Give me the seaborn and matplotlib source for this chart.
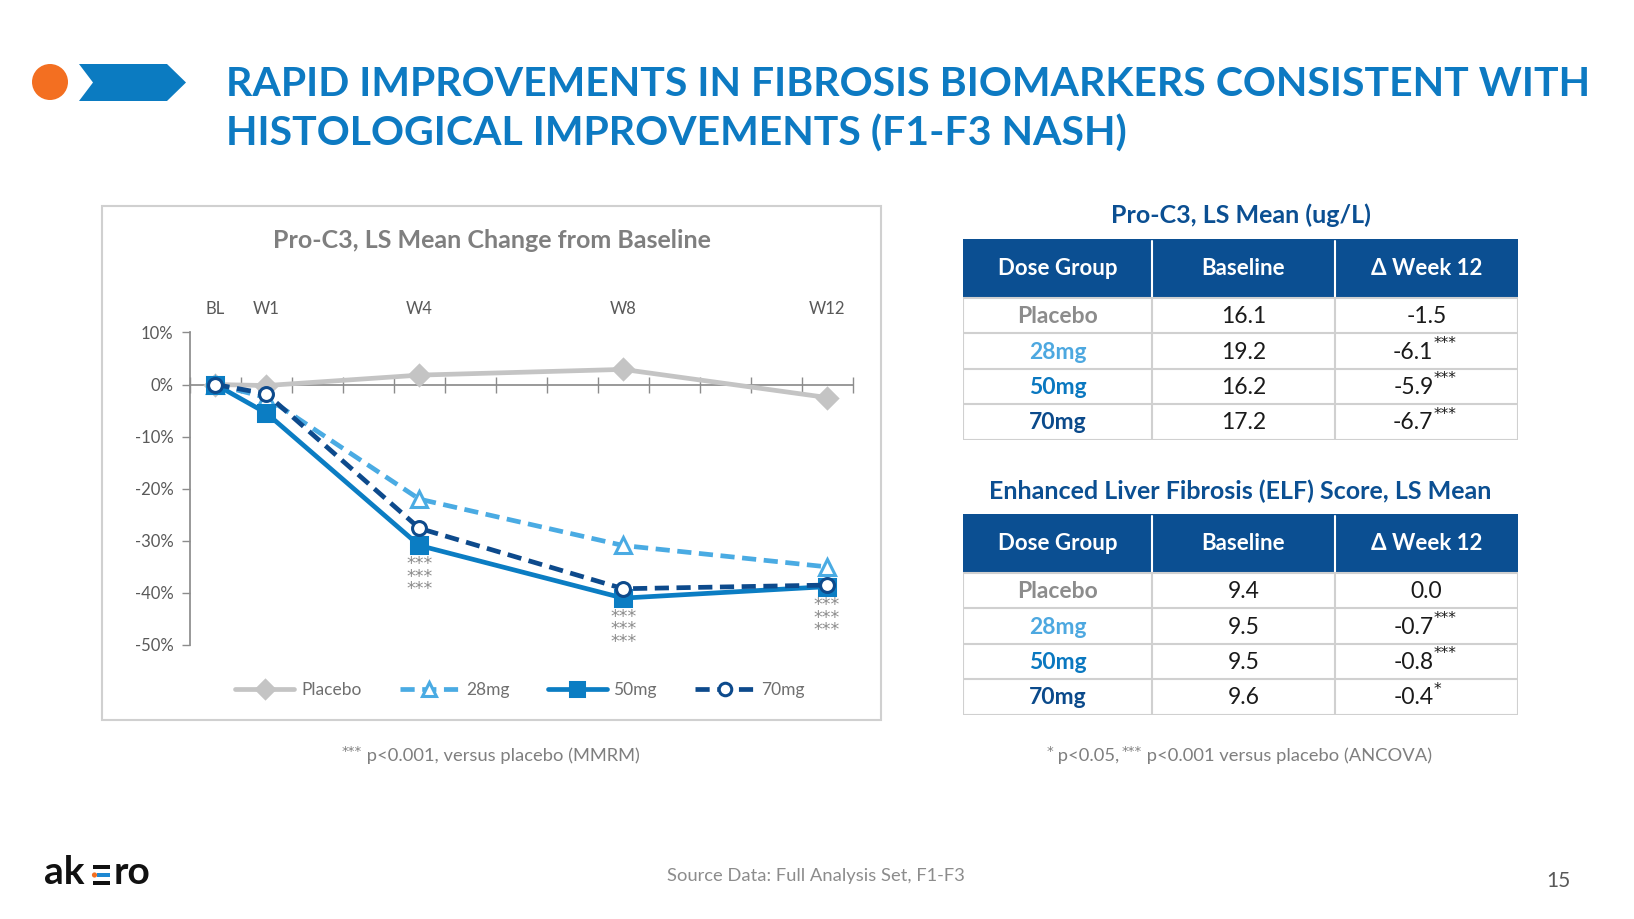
import matplotlib
matplotlib.use("Agg")
import matplotlib.pyplot as plt
import matplotlib.patches as mpatches
from matplotlib.lines import Line2D
import seaborn as sns
import pandas as pd

sns.set_theme(style="white")
plt.rcParams["font.family"] = ["Lato", "DejaVu Sans"]

# ---- data ----
weeks = [0, 1, 4, 8, 12]
week_labels = ["BL", "W1", "W4", "W8", "W12"]
placebo = [0.0, -0.2, 1.8, 2.9, -2.5]
mg28 = [0.0, -2.5, -22.0, -30.9, -35.0]
mg50 = [0.0, -5.5, -30.9, -41.0, -38.8]
mg70 = [0.0, -1.8, -27.6, -39.2, -38.5]
star_weeks = [4, 8, 12]
y_ticks = [10, 0, -10, -20, -30, -40, -50]

dose_groups = ["Placebo", "28mg", "50mg", "70mg"]
proc3_baseline = ["16.1", "19.2", "16.2", "17.2"]
proc3_week12 = ["-1.5", "-6.1", "-5.9", "-6.7"]
proc3_sig = ["", "***", "***", "***"]
elf_baseline = ["9.4", "9.5", "9.5", "9.6"]
elf_week12 = ["0.0", "-0.7", "-0.8", "-0.4"]
elf_sig = ["", "***", "***", "*"]
table_cols = ["Dose Group", "Baseline", "\u0394 Week 12"]

# ---- styles ----
W, H = 1634, 919
BLUE_T = "#0D7AC2"
NAVY = "#0B4F92"
GREY_TXT = "#7F7F7F"
series_style = {
    "Placebo": dict(color="#C4C4C4", ls="-", marker="D", mfc="#C4C4C4", ms=10),
    "28mg": dict(color="#4AABE3", ls=(0, (3, 1.6)), marker="^", mfc="white", ms=11),
    "50mg": dict(color="#0B7DC3", ls="-", marker="s", mfc="#0B7DC3", ms=11),
    "70mg": dict(color="#0D4A8C", ls=(0, (3, 1.6)), marker="o", mfc="white", ms=10),
}
group_colors = {"Placebo": "#8C8C8C", "28mg": "#4DA8E0", "50mg": "#0A78C0", "70mg": "#0B4A8B"}


def fx(x):
    return x / W


def fy(y):
    return 1 - y / H


fig = plt.figure(figsize=(W / 100, H / 100), dpi=100)

# overlay in pixel units for header, frame, footnotes and footer
bg = fig.add_axes([0, 0, 1, 1])
bg.set_xlim(0, W)
bg.set_ylim(H, 0)
bg.axis("off")

# ---- header ----
bg.add_patch(mpatches.Circle((50, 82), 18, color="#F36F21", lw=0))
chev = [(79, 64), (167, 64), (186, 82.5), (167, 101), (79, 101), (93, 82.5)]
bg.add_patch(mpatches.Polygon(chev, closed=True, color="#0B7BC1", lw=0))
bg.text(226, 85, "RAPID IMPROVEMENTS IN FIBROSIS BIOMARKERS CONSISTENT WITH",
        fontsize=29.5, fontweight="bold", color=BLUE_T, va="center", ha="left")
bg.text(226, 134, "HISTOLOGICAL IMPROVEMENTS (F1-F3 NASH)",
        fontsize=29.5, fontweight="bold", color=BLUE_T, va="center", ha="left")

# ---- chart frame ----
bg.add_patch(mpatches.Rectangle((102, 206), 881 - 102, 720 - 206, fill=False,
                                edgecolor="#D0D0D0", lw=1.5))
bg.text(492, 241, "Pro-C3, LS Mean Change from Baseline", fontsize=18,
        fontweight="bold", color="#7F7F7F", ha="center", va="center")

ax = fig.add_axes([fx(190), fy(645), (852.5 - 190) / W, (645 - 332.4) / H])
df = pd.DataFrame({"week": weeks * 4,
                   "value": placebo + mg28 + mg50 + mg70,
                   "group": [g for g in dose_groups for _ in weeks]})
for g in dose_groups:
    st = series_style[g]
    sub = df[df["group"] == g]
    sns.lineplot(data=sub, x="week", y="value", ax=ax, color=st["color"], lw=3.4,
                 linestyle=st["ls"], marker=st["marker"], markersize=st["ms"],
                 markerfacecolor=st["mfc"], markeredgecolor=st["color"],
                 markeredgewidth=2.2, label=g, zorder=3, legend=False)

ax.set_xlim(-0.5, 12.5)
ax.set_ylim(-50, 10)
ax.set_xlabel("")
ax.set_ylabel("")
ax.set_facecolor("none")
for s in ["top", "right"]:
    ax.spines[s].set_visible(False)
ax.spines["left"].set_color("#8C8C8C")
ax.spines["bottom"].set_color("#8C8C8C")
ax.spines["bottom"].set_position(("data", 0))
ax.spines["bottom"].set_zorder(1)
ax.set_xticks([w - 0.5 for w in range(14)])
ax.set_xticklabels([])
ax.tick_params(axis="x", direction="inout", length=12, width=1, color="#8C8C8C", bottom=True)
ax.set_yticks(y_ticks)
ax.set_yticklabels([f"{v}%" for v in y_ticks], fontsize=12, color="#595959")
ax.tick_params(axis="y", direction="out", length=6, width=1, color="#8C8C8C", left=True, pad=6)

top = ax.twiny()
top.set_xlim(ax.get_xlim())
top.set_xticks(weeks)
top.set_xticklabels(week_labels, fontsize=12, color="#595959")
top.tick_params(axis="x", length=0, pad=11)
for s in top.spines.values():
    s.set_visible(False)

# significance stars below the 50mg / 70mg points (three rows: 28, 50, 70mg)
for w in star_weeks:
    i = weeks.index(w)
    low = min(mg50[i], mg70[i])
    ax.annotate("***\n***\n***", xy=(w, low), xytext=(0, -7), textcoords="offset points",
                ha="center", va="top", fontsize=12.5, color="#8C8C8C", linespacing=0.6,
                family="DejaVu Sans")

handles = []
for g in dose_groups:
    st = series_style[g]
    handles.append(Line2D([], [], color=st["color"], lw=3.4, linestyle=st["ls"],
                          marker=st["marker"], markersize=st["ms"] - 1,
                          markerfacecolor=st["mfc"], markeredgecolor=st["color"],
                          markeredgewidth=2.2))
fig.legend(handles, dose_groups, loc="center", bbox_to_anchor=(fx(520), fy(690)), ncol=4,
           frameon=False, fontsize=12.5, labelcolor="#6F6F6F", handlelength=3.4,
           columnspacing=2.2, handletextpad=0.4, numpoints=1)

# footnote under chart
bg.text(362, 752, "***", fontsize=9.5, color=GREY_TXT, ha="right", va="center",
        family="DejaVu Sans")
bg.text(362, 756, " p<0.001, versus placebo (MMRM)", fontsize=13.2,
        color=GREY_TXT, ha="left", va="center")


# ---- tables ----
def draw_table(title, y_title, y_top, baseline, week12, sig):
    x0, x1 = 963, 1518
    col_edges = [963, 1152, 1335, 1518]
    head_h = 59
    row_h = 35.4
    total_h = head_h + row_h * len(dose_groups)
    tax = fig.add_axes([fx(x0), fy(y_top + total_h), (x1 - x0) / W, total_h / H])
    tax.set_xlim(x0, x1)
    tax.set_ylim(y_top + total_h, y_top)
    tax.axis("off")
    bg.text((x0 + x1) / 2, y_title, title, fontsize=18, fontweight="bold",
            color=NAVY, ha="center", va="center")
    tax.add_patch(mpatches.Rectangle((x0, y_top), x1 - x0, head_h, color=NAVY, lw=0))
    for ce in col_edges[1:-1]:
        tax.plot([ce, ce], [y_top + 2, y_top + head_h], color="white", lw=1.5)
    centers = [(col_edges[i] + col_edges[i + 1]) / 2 for i in range(3)]
    for c, lab in zip(centers, table_cols):
        tax.text(c, y_top + head_h / 2, lab, color="white", fontsize=16, fontweight="bold",
                 ha="center", va="center")
    # grid for body
    for r in range(len(dose_groups) + 1):
        yy = y_top + head_h + r * row_h
        tax.plot([x0, x1], [yy, yy], color="#D0D0D0", lw=1.5)
    for ce in col_edges:
        tax.plot([ce, ce], [y_top + head_h, y_top + total_h], color="#D0D0D0", lw=1.5)
    for r, g in enumerate(dose_groups):
        yc = y_top + head_h + (r + 0.5) * row_h + 1
        tax.text(centers[0], yc, g, fontsize=16.5, fontweight="bold",
                 color=group_colors[g], ha="center", va="center")
        tax.text(centers[1], yc, baseline[r], fontsize=16.5, color="#1A1A1A",
                 ha="center", va="center")
        if sig[r]:
            tax.annotate(week12[r], xy=(centers[2], yc), xytext=(5, 0),
                         textcoords="offset points", fontsize=16.5, color="#1A1A1A",
                         ha="right", va="center")
            tax.annotate(sig[r], xy=(centers[2], yc), xytext=(5, 1),
                         textcoords="offset points", fontsize=11, color="#1A1A1A",
                         ha="left", va="bottom", family="DejaVu Sans")
        else:
            tax.text(centers[2], yc, week12[r], fontsize=16.5, color="#1A1A1A",
                     ha="center", va="center")


draw_table("Pro-C3, LS Mean (ug/L)", 215, 239, proc3_baseline, proc3_week12, proc3_sig)
draw_table("Enhanced Liver Fibrosis (ELF) Score, LS Mean", 491, 514,
           elf_baseline, elf_week12, elf_sig)

bg.text(1053, 752, "*", fontsize=9.5, color=GREY_TXT, ha="right", va="center",
        family="DejaVu Sans")
bg.text(1053, 756, " p<0.05, ", fontsize=13.2, color=GREY_TXT, ha="left", va="center")
bg.text(1142, 752, "***", fontsize=9.5, color=GREY_TXT, ha="right", va="center",
        family="DejaVu Sans")
bg.text(1142, 756, " p<0.001 versus placebo (ANCOVA)", fontsize=13.2,
        color=GREY_TXT, ha="left", va="center")

# ---- footer ----
bg.text(44, 872, "ak", fontsize=28, fontweight="bold", color="#111111",
        ha="left", va="center")
bg.text(150, 872, "ro", fontsize=28, fontweight="bold", color="#111111",
        ha="right", va="center")
bg.add_patch(mpatches.Rectangle((93, 865), 17, 4, color="#111111", lw=0))
bg.add_patch(mpatches.Rectangle((97, 873), 13, 4, color="#1E88D2", lw=0))
bg.add_patch(mpatches.Rectangle((93, 881), 17, 4, color="#111111", lw=0))
bg.add_patch(mpatches.Circle((94.5, 875), 2.6, color="#F36F21", lw=0))
bg.text(816, 876, "Source Data: Full Analysis Set, F1-F3", fontsize=13.2,
        color="#8C8C8C", ha="center", va="center")
bg.text(1558, 881, "15", fontsize=15, color="#595959", ha="center", va="center")

fig.savefig("out.png", dpi=100)
